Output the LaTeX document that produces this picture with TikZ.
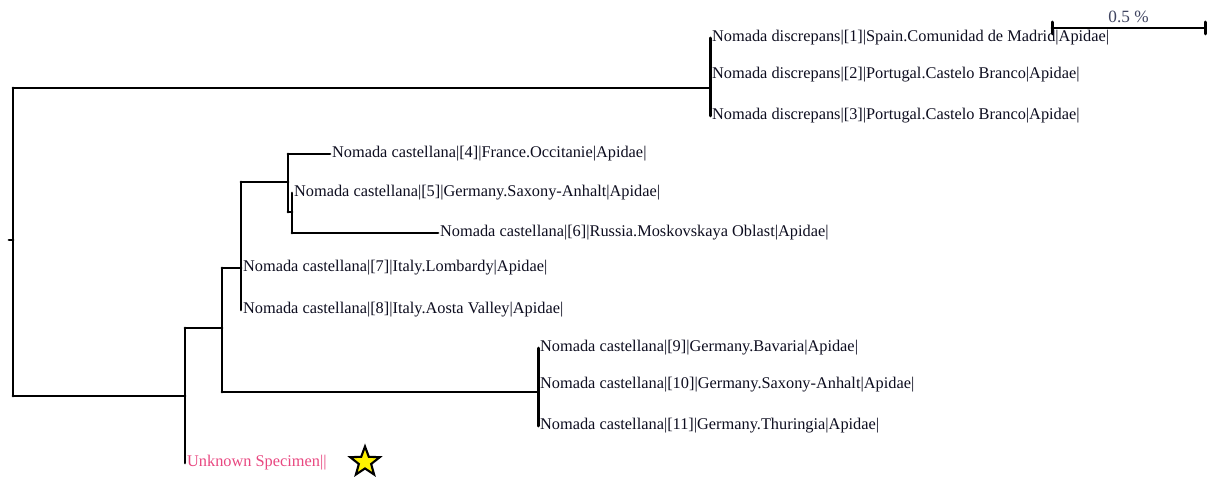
\documentclass[tikz,border=0pt]{standalone}
\usepackage{fontspec}
\setmainfont{Liberation Serif}
\usetikzlibrary{arrows,calc,shapes.geometric}
\usepackage{tkz-euclide}
\definecolor{LeafClr}{rgb}{0.05,0.05,0.12}
\definecolor{QueryClr}{rgb}{0.91,0.28,0.5}
\definecolor{ScaleClr}{rgb}{0.25,0.27,0.38}
\tikzset{leaf/.style={anchor=west,inner sep=1pt,text=LeafClr,
    font=\fontsize{9.3}{11}\selectfont}}

\begin{document}
\begin{tikzpicture}[line cap=rect]
\useasboundingbox (0,0) rectangle (24.16,9.52);
\tkzSetUpLine[line width=1.7pt,color=black]

% root and the two main clades
\tkzDefPoints{0.18/4.72/R0,0.26/4.72/R,0.26/7.76/Rt,0.26/1.60/Rb}
\tkzDefPoints{14.20/7.76/D,14.20/8.76/P1,14.20/8.02/P2,14.20/7.20/P3}
\tkzDefPoints{3.70/1.60/B,3.70/2.96/Bt,3.70/0.26/U}
\tkzDefPoints{4.44/2.96/C,4.44/4.16/Ct,4.44/1.68/Cb}
\tkzDefPoints{4.82/4.16/P7,4.82/5.88/Et,4.82/3.32/P8}
\tkzDefPoints{5.76/5.88/F,5.76/6.44/Ft,5.76/5.28/Fb,6.60/6.44/P4}
\tkzDefPoints{5.84/5.28/G,5.84/5.66/P5,5.84/4.86/Gb,8.76/4.86/P6}
\tkzDefPoints{10.76/1.68/H,10.76/2.56/P9,10.76/1.82/P10,10.76/1.00/P11}
% scale bar
\tkzDefPoints{21.04/8.96/S1,24.10/8.96/S2,21.04/9.08/S1a,21.04/8.84/S1b,
  24.10/9.08/S2a,24.10/8.84/S2b}

\tkzDrawSegments(R0,R Rt,Rb Rt,D P1,P3)
\tkzDrawSegments(Rb,B Bt,U Bt,C Ct,Cb Ct,P7 Et,P8 Et,F Ft,Fb Ft,P4)
\tkzDrawSegments(Fb,G P5,Gb Gb,P6 Cb,H P9,P11)
\tkzDrawSegments(S1,S2 S1a,S1b S2a,S2b)

\node (l1) [leaf] at (P1) {Nomada discrepans|[1]|Spain.Comunidad de Madrid|Apidae|};
\node (l2) [leaf] at (P2) {Nomada discrepans|[2]|Portugal.Castelo Branco|Apidae|};
\node (l3) [leaf] at (P3) {Nomada discrepans|[3]|Portugal.Castelo Branco|Apidae|};
\node (l4) [leaf] at (P4) {Nomada castellana|[4]|France.Occitanie|Apidae|};
\node (l5) [leaf] at (P5) {Nomada castellana|[5]|Germany.Saxony-Anhalt|Apidae|};
\node (l6) [leaf] at (P6) {Nomada castellana|[6]|Russia.Moskovskaya Oblast|Apidae|};
\node (l7) [leaf] at (P7) {Nomada castellana|[7]|Italy.Lombardy|Apidae|};
\node (l8) [leaf] at (P8) {Nomada castellana|[8]|Italy.Aosta Valley|Apidae|};
\node (l9) [leaf] at (P9) {Nomada castellana|[9]|Germany.Bavaria|Apidae|};
\node (l10) [leaf] at (P10) {Nomada castellana|[10]|Germany.Saxony-Anhalt|Apidae|};
\node (l11) [leaf] at (P11) {Nomada castellana|[11]|Germany.Thuringia|Apidae|};
\node (lu) [leaf,text=QueryClr] at (U) {Unknown Specimen||};
\node (star) [star,star points=5,star point ratio=2.4,minimum size=0.62cm,
  inner sep=0pt,fill=yellow,draw=black,line width=1.2pt] at (7.30,0.28) {};
\node (scale) [text=ScaleClr,font=\fontsize{9.8}{11}\selectfont]
  at ($(S1)!0.5!(S2)+(0,0.22)$) {0.5 \%};

\end{tikzpicture}
\end{document}
